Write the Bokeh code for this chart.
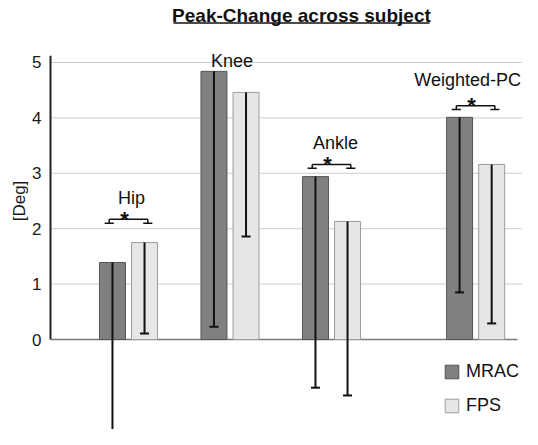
import math
from bokeh.plotting import figure
from bokeh.models import (ColumnDataSource, Range1d, Whisker, TeeHead,
                          Label, Legend, LegendItem)
from bokeh.core.properties import value
from bokeh.embed import file_html
from bokeh.resources import INLINE

# ---------------- data ----------------
joints = ["Hip", "Knee", "Ankle", "Weighted-PC"]
mrac_mean = [1.39, 4.84, 2.94, 4.01]
mrac_sd = [3.25, 4.61, 3.81, 3.16]
fps_mean = [1.75, 4.46, 2.13, 3.16]
fps_sd = [1.64, 2.60, 3.14, 2.87]
significant = [True, False, True, True]
bracket_y = [2.17, 3.16, 4.22]
y_ticks = [0, 1, 2, 3, 4, 5]
title_text = "Peak-Change across subject"
y_label = "[Deg]"

# ---------------- layout ----------------
group_x = [0.0, 1.0, 2.0, 3.42]
label_y = [2.56, 5.02, 3.54, 4.675]
label_dx = [3, 2, 4, -8]
offset = 0.158
bar_w = 0.256
FONT = "Liberation Sans"
X0, X1 = -1.2611, 3.8818
Y0, Y1 = -1.6245, 6.119
AXIS_X = -0.7685

mrac_x = [g - offset for g in group_x]
fps_x = [g + offset for g in group_x]

src_m = ColumnDataSource(dict(x=mrac_x, top=mrac_mean,
                              low=[m - s for m, s in zip(mrac_mean, mrac_sd)]))
src_f = ColumnDataSource(dict(x=fps_x, top=fps_mean,
                              low=[m - s for m, s in zip(fps_mean, fps_sd)]))

p = figure(width=522, height=429, output_backend="svg", toolbar_location=None,
           x_range=Range1d(X0, X1), y_range=Range1d(Y0, Y1),
           x_axis_location=None, y_axis_location=None,
           min_border_left=0, min_border_right=0,
           min_border_top=0, min_border_bottom=0)
p.outline_line_color = None
p.background_fill_color = "white"
p.grid.visible = False

# dotted gridlines (1..5)
gy = [t for t in y_ticks if t > 0]
p.segment(x0=[AXIS_X] * len(gy), y0=gy, x1=[X1] * len(gy), y1=gy,
          line_color="#9a9a9a", line_dash="1 1", line_width=1)

# y axis line and tick labels
p.segment(x0=[AXIS_X], y0=[0], x1=[AXIS_X], y1=[5.12], line_color="#222222", line_width=2)
tick_src = ColumnDataSource(dict(x=[AXIS_X] * len(y_ticks), y=y_ticks,
                                 t=[str(t) for t in y_ticks]))
p.text(x="x", y="y", text="t", source=tick_src, x_offset=-9,
       text_font=value(FONT), text_font_size="17px", text_align="right",
       text_baseline="middle", text_color="#1a1a1a")

# zero baseline
p.segment(x0=[AXIS_X], y0=[0], x1=[3.833], y1=[0], line_color="#7a7a7a", line_width=1.5)

# bars
rm = p.vbar(x="x", top="top", bottom=0, width=bar_w, source=src_m,
            fill_color="#808080", line_color="#555555", line_width=1)
rf = p.vbar(x="x", top="top", bottom=0, width=bar_w, source=src_f,
            fill_color="#e6e6e6", line_color="#9c9c9c", line_width=1)

# error bars (lower side only), drawn over the bars
for src in (src_m, src_f):
    w = Whisker(source=src, base="x", upper="top", lower="low",
                line_color="#111111", line_width=2, level="overlay",
                upper_head=None,
                lower_head=TeeHead(size=9, line_color="#111111", line_width=2))
    p.add_layout(w)

# significance brackets
half = 0.19
drop = 0.07
foot = 0.045
sig_groups = [g for g, s in zip(group_x, significant) if s]
tx0, tx1, ty0, ty1 = [], [], [], []
for gx, by in zip(sig_groups, bracket_y):
    xl, xr = gx - half, gx + half
    tx0 += [xl, xl, xr, xl - foot, xr - foot]
    tx1 += [xr, xl, xr, xl + foot, xr + foot]
    ty0 += [by, by, by, by - drop, by - drop]
    ty1 += [by, by - drop, by - drop, by - drop, by - drop]
p.segment(x0=tx0, y0=ty0, x1=tx1, y1=ty1, line_color="#111111", line_width=1.5)
for gx, by in zip(sig_groups, bracket_y):
    p.add_layout(Label(x=gx, y=by, text="*", text_font=FONT, text_font_size="22px",
                       text_font_style="bold", text_align="center",
                       text_baseline="middle", x_offset=-4, y_offset=0,
                       text_color="#111111"))

# group labels
for gx, ly, dx, name in zip(group_x, label_y, label_dx, joints):
    p.add_layout(Label(x=gx, y=ly, text=name, text_font=FONT, text_font_size="18px",
                       text_align="center", text_baseline="middle", x_offset=dx,
                       text_color="#111111"))

# title with underline
p.add_layout(Label(x=1.704, y=5.848, text=title_text, text_font=FONT,
                   text_font_size="19px", text_font_style="bold", text_align="center",
                   text_baseline="middle", text_color="#111111"))
p.segment(x0=[0.443], y0=[5.713], x1=[2.966], y1=[5.713], line_color="#111111", line_width=1.5)

# y label
p.add_layout(Label(x=-1.074, y=2.5, text=y_label, angle=math.pi / 2, text_font=FONT,
                   text_font_size="17px", text_align="center", text_baseline="middle",
                   text_color="#1a1a1a"))

# legend
legend = Legend(items=[LegendItem(label="MRAC", renderers=[rm]),
                       LegendItem(label="FPS", renderers=[rf])],
                location=(443, 13), glyph_width=17, glyph_height=17,
                label_height=17, spacing=13, padding=0, margin=0,
                label_standoff=6, label_text_font=FONT, label_text_font_size="18px",
                label_text_color="#111111", border_line_color=None,
                background_fill_alpha=0)
p.add_layout(legend)

open("out.html", "w").write(file_html(p, INLINE))
